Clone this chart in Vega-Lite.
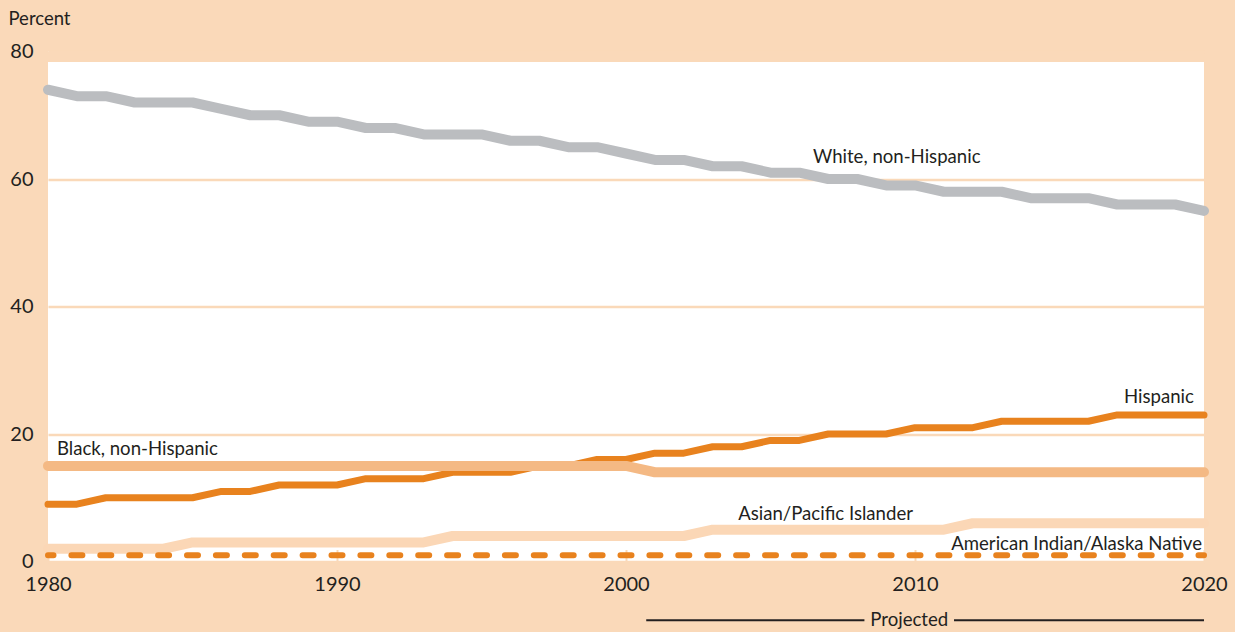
{
  "$schema": "https://vega.github.io/schema/vega-lite/v6.json",
  "width": 1156,
  "height": 510,
  "autosize": {"type": "none"},
  "padding": {"left": 48, "top": 51.5, "right": 31, "bottom": 70.5},
  "background": "#FAD9B9",
  "config": {
    "view": {"fill": "white", "stroke": null},
    "font": "Lato"
  },
  "datasets": {
    "series": [
      {"year": 1980, "white": 74, "hispanic": 9, "black": 15, "asian": 2, "aian": 1},
      {"year": 1981, "white": 73, "hispanic": 9, "black": 15, "asian": 2, "aian": 1},
      {"year": 1982, "white": 73, "hispanic": 10, "black": 15, "asian": 2, "aian": 1},
      {"year": 1983, "white": 72, "hispanic": 10, "black": 15, "asian": 2, "aian": 1},
      {"year": 1984, "white": 72, "hispanic": 10, "black": 15, "asian": 2, "aian": 1},
      {"year": 1985, "white": 72, "hispanic": 10, "black": 15, "asian": 3, "aian": 1},
      {"year": 1986, "white": 71, "hispanic": 11, "black": 15, "asian": 3, "aian": 1},
      {"year": 1987, "white": 70, "hispanic": 11, "black": 15, "asian": 3, "aian": 1},
      {"year": 1988, "white": 70, "hispanic": 12, "black": 15, "asian": 3, "aian": 1},
      {"year": 1989, "white": 69, "hispanic": 12, "black": 15, "asian": 3, "aian": 1},
      {"year": 1990, "white": 69, "hispanic": 12, "black": 15, "asian": 3, "aian": 1},
      {"year": 1991, "white": 68, "hispanic": 13, "black": 15, "asian": 3, "aian": 1},
      {"year": 1992, "white": 68, "hispanic": 13, "black": 15, "asian": 3, "aian": 1},
      {"year": 1993, "white": 67, "hispanic": 13, "black": 15, "asian": 3, "aian": 1},
      {"year": 1994, "white": 67, "hispanic": 14, "black": 15, "asian": 4, "aian": 1},
      {"year": 1995, "white": 67, "hispanic": 14, "black": 15, "asian": 4, "aian": 1},
      {"year": 1996, "white": 66, "hispanic": 14, "black": 15, "asian": 4, "aian": 1},
      {"year": 1997, "white": 66, "hispanic": 15, "black": 15, "asian": 4, "aian": 1},
      {"year": 1998, "white": 65, "hispanic": 15, "black": 15, "asian": 4, "aian": 1},
      {"year": 1999, "white": 65, "hispanic": 16, "black": 15, "asian": 4, "aian": 1},
      {"year": 2000, "white": 64, "hispanic": 16, "black": 15, "asian": 4, "aian": 1},
      {"year": 2001, "white": 63, "hispanic": 17, "black": 14, "asian": 4, "aian": 1},
      {"year": 2002, "white": 63, "hispanic": 17, "black": 14, "asian": 4, "aian": 1},
      {"year": 2003, "white": 62, "hispanic": 18, "black": 14, "asian": 5, "aian": 1},
      {"year": 2004, "white": 62, "hispanic": 18, "black": 14, "asian": 5, "aian": 1},
      {"year": 2005, "white": 61, "hispanic": 19, "black": 14, "asian": 5, "aian": 1},
      {"year": 2006, "white": 61, "hispanic": 19, "black": 14, "asian": 5, "aian": 1},
      {"year": 2007, "white": 60, "hispanic": 20, "black": 14, "asian": 5, "aian": 1},
      {"year": 2008, "white": 60, "hispanic": 20, "black": 14, "asian": 5, "aian": 1},
      {"year": 2009, "white": 59, "hispanic": 20, "black": 14, "asian": 5, "aian": 1},
      {"year": 2010, "white": 59, "hispanic": 21, "black": 14, "asian": 5, "aian": 1},
      {"year": 2011, "white": 58, "hispanic": 21, "black": 14, "asian": 5, "aian": 1},
      {"year": 2012, "white": 58, "hispanic": 21, "black": 14, "asian": 6, "aian": 1},
      {"year": 2013, "white": 58, "hispanic": 22, "black": 14, "asian": 6, "aian": 1},
      {"year": 2014, "white": 57, "hispanic": 22, "black": 14, "asian": 6, "aian": 1},
      {"year": 2015, "white": 57, "hispanic": 22, "black": 14, "asian": 6, "aian": 1},
      {"year": 2016, "white": 57, "hispanic": 22, "black": 14, "asian": 6, "aian": 1},
      {"year": 2017, "white": 56, "hispanic": 23, "black": 14, "asian": 6, "aian": 1},
      {"year": 2018, "white": 56, "hispanic": 23, "black": 14, "asian": 6, "aian": 1},
      {"year": 2019, "white": 56, "hispanic": 23, "black": 14, "asian": 6, "aian": 1},
      {"year": 2020, "white": 55, "hispanic": 23, "black": 14, "asian": 6, "aian": 1}
    ],
    "strip": [
      {"x1": 1980, "x2": 2020, "y1": 78.35, "y2": 80}
    ],
    "projected": [
      {"x1": 2000.7, "x2": 2008.25, "y": -9.2},
      {"x1": 2011.35, "x2": 2020, "y": -9.2}
    ],
    "projlabel": [
      {"x": 2009.8, "y": -9.1, "label": "Projected"}
    ],
    "labelsLeft": [
      {"x": 2006.47, "y": 63.45, "label": "White, non-Hispanic"},
      {"x": 1980.31, "y": 17.65, "label": "Black, non-Hispanic"},
      {"x": 2003.88, "y": 7.45, "label": "Asian/Pacific Islander"}
    ],
    "labelsRight": [
      {"x": 2019.65, "y": 25.8, "label": "Hispanic"},
      {"x": 2019.93, "y": 2.82, "label": "American Indian/Alaska Native"}
    ]
  },
  "layer": [
    {
      "data": {"name": "series"},
      "mark": {"type": "line", "color": "#FBD7B6", "strokeWidth": 10, "strokeCap": "round", "strokeJoin": "round"},
      "encoding": {
        "x": {
          "field": "year", "type": "quantitative",
          "scale": {"domain": [1980, 2020], "nice": false, "zero": false},
          "axis": {
            "values": [1980, 1990, 2000, 2010, 2020], "format": "d", "title": null,
            "domain": false, "grid": false, "tickSize": -12, "tickColor": "#FAD9B9", "tickWidth": 2,
            "labelFontSize": 20, "labelColor": "#231F20", "labelPadding": 25, "labelFlush": false, "labelFont": "Lato"
          }
        },
        "y": {
          "field": "asian", "type": "quantitative",
          "scale": {"domain": [0, 80], "nice": false},
          "axis": {
            "values": [0, 20, 40, 60, 80], "title": "Percent", "titleAngle": 0, "titleX": -40, "titleY": -33,
            "titleAlign": "left", "titleBaseline": "middle", "titleFontSize": 18.5, "titleFontWeight": "normal",
            "titleColor": "#231F20", "titleFont": "Lato", "domain": false, "ticks": false, "labelPadding": 15,
            "labelFontSize": 20, "labelColor": "#231F20", "labelFont": "Lato",
            "gridColor": "#FAD9B9", "gridWidth": 2.5, "gridOpacity": 1
          }
        }
      }
    },
    {
      "data": {"name": "series"},
      "mark": {"type": "line", "color": "#E8821E", "strokeWidth": 6, "strokeCap": "round", "strokeDash": [11, 17.9], "strokeDashOffset": 5.5},
      "encoding": {
        "x": {"field": "year", "type": "quantitative", "scale": {"domain": [1980, 2020], "nice": false, "zero": false}},
        "y": {"field": "aian", "type": "quantitative", "scale": {"domain": [0, 80], "nice": false}}
      }
    },
    {
      "data": {"name": "series"},
      "mark": {"type": "line", "color": "#E8821E", "strokeWidth": 7, "strokeCap": "round", "strokeJoin": "round"},
      "encoding": {
        "x": {"field": "year", "type": "quantitative", "scale": {"domain": [1980, 2020], "nice": false, "zero": false}},
        "y": {"field": "hispanic", "type": "quantitative", "scale": {"domain": [0, 80], "nice": false}}
      }
    },
    {
      "data": {"name": "series"},
      "mark": {"type": "line", "color": "#F4B984", "strokeWidth": 10, "strokeCap": "round", "strokeJoin": "round"},
      "encoding": {
        "x": {"field": "year", "type": "quantitative", "scale": {"domain": [1980, 2020], "nice": false, "zero": false}},
        "y": {"field": "black", "type": "quantitative", "scale": {"domain": [0, 80], "nice": false}}
      }
    },
    {
      "data": {"name": "series"},
      "mark": {"type": "line", "color": "#BBBDC0", "strokeWidth": 10, "strokeCap": "round", "strokeJoin": "round"},
      "encoding": {
        "x": {"field": "year", "type": "quantitative", "scale": {"domain": [1980, 2020], "nice": false, "zero": false}},
        "y": {"field": "white", "type": "quantitative", "scale": {"domain": [0, 80], "nice": false}}
      }
    },
    {
      "data": {"name": "strip"},
      "mark": {"type": "rect", "color": "#FAD9B9"},
      "encoding": {
        "x": {"field": "x1", "type": "quantitative"},
        "x2": {"field": "x2"},
        "y": {"field": "y1", "type": "quantitative"},
        "y2": {"field": "y2"}
      }
    },
    {
      "data": {"name": "projected"},
      "mark": {"type": "rule", "color": "#231F20", "strokeWidth": 2},
      "encoding": {
        "x": {"field": "x1", "type": "quantitative"},
        "x2": {"field": "x2"},
        "y": {"field": "y", "type": "quantitative"}
      }
    },
    {
      "data": {"name": "projlabel"},
      "mark": {"type": "text", "align": "center", "baseline": "middle", "fontSize": 18.6, "color": "#231F20", "font": "Lato"},
      "encoding": {
        "x": {"field": "x", "type": "quantitative"},
        "y": {"field": "y", "type": "quantitative"},
        "text": {"field": "label"}
      }
    },
    {
      "data": {"name": "labelsLeft"},
      "mark": {"type": "text", "align": "left", "baseline": "middle", "fontSize": 18.6, "color": "#231F20", "font": "Lato"},
      "encoding": {
        "x": {"field": "x", "type": "quantitative"},
        "y": {"field": "y", "type": "quantitative"},
        "text": {"field": "label"}
      }
    },
    {
      "data": {"name": "labelsRight"},
      "mark": {"type": "text", "align": "right", "baseline": "middle", "fontSize": 18.6, "color": "#231F20", "font": "Lato"},
      "encoding": {
        "x": {"field": "x", "type": "quantitative"},
        "y": {"field": "y", "type": "quantitative"},
        "text": {"field": "label"}
      }
    }
  ]
}
